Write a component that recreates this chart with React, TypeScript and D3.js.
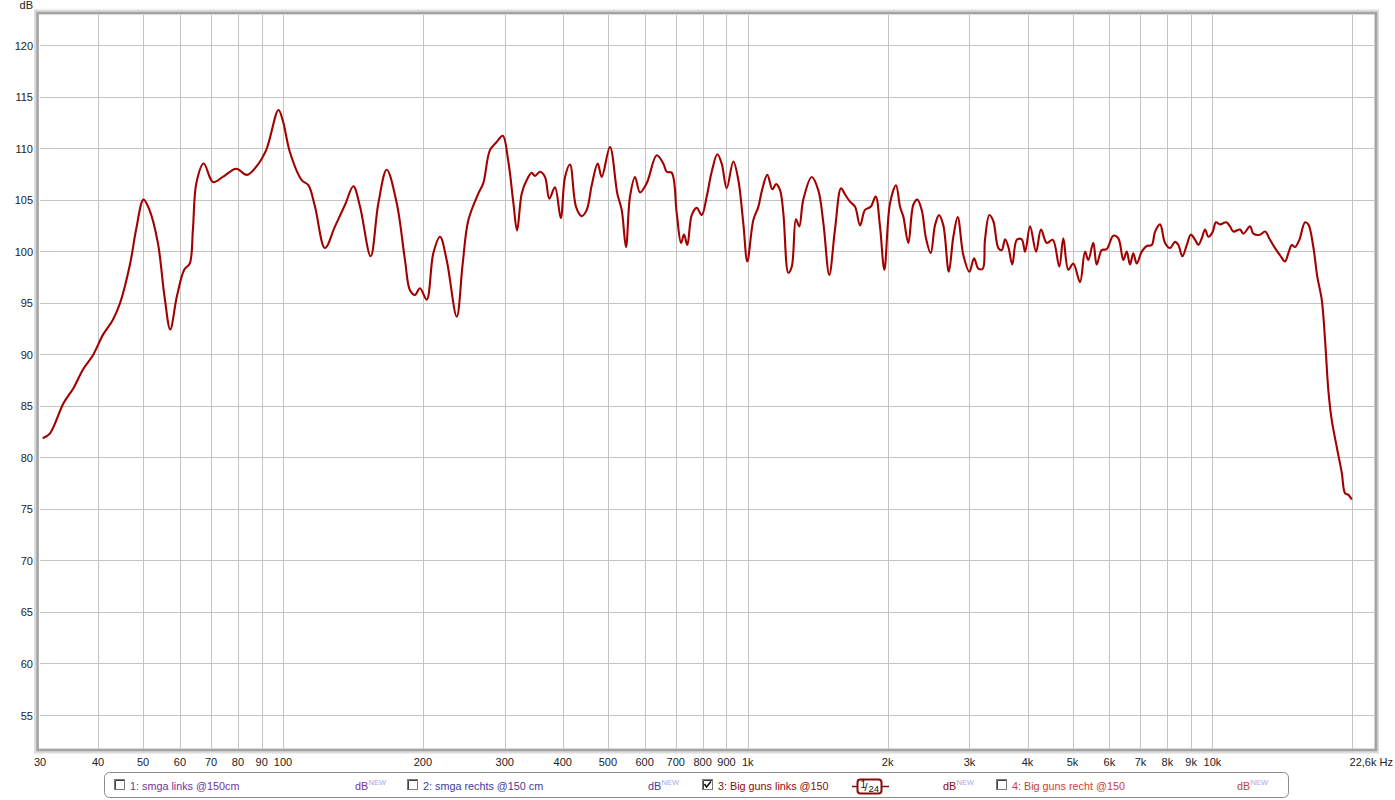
import React from "react";
import * as d3 from "d3";

const FREQ = [
  30.4, 31.5, 33.7, 35.4, 37.1, 39.0, 41.0, 43.0, 44.6, 46.9, 48.3, 50.1, 51.6, 53.8, 55.6, 57.2, 59.1, 61.3, 63.0, 64.0,
  65.1, 67.5, 70.7, 74.2, 79.3, 83.6, 87.6, 92.0, 97.8, 100.0, 103.5,
  109.7, 113.4, 117.2, 123.1, 129.4, 136.0, 141.7, 146.5, 154.4, 160.4, 167.2, 175.7, 183.0, 187.6, 192.3, 197.1, 203.8,
  210.6, 217.7, 225.0, 236.5, 243.6, 250.5, 263.3, 269.8, 278.8, 288.4, 297.1, 305.4, 313.2, 318.9, 326.4, 334.6, 342.9,
  348.6, 357.3, 366.3, 374.1, 384.8, 396.0, 404.5, 414.6, 427.1, 439.4, 450.4, 461.7, 475.6, 485.1, 505.3, 524.0, 535.6,
  547.1, 558.1, 572.1, 586.4, 606.4, 637.0, 658.2, 669.4, 686.2, 703.4, 718.6, 729.3, 741.3, 757.7, 776.6, 796.2, 816.2,
  836.6, 860.3, 879.0, 901.1, 931.1, 954.6, 978.4, 998,
  1028, 1054, 1072, 1102, 1130, 1151, 1174, 1193, 1223, 1244, 1270, 1291, 1317, 1373, 1419, 1455, 1498, 1541, 1588, 1620,
  1660, 1702, 1745, 1788, 1839, 1885, 1926, 1968, 2024, 2085, 2127, 2162, 2216, 2272, 2317, 2368, 2419, 2476, 2529, 2580,
  2636, 2708, 2770, 2831, 2911, 2999, 3069, 3136, 3204, 3240, 3311, 3377, 3462, 3521, 3579, 3638, 3710, 3793, 3887, 3952,
  4051, 4173, 4277, 4400, 4533, 4682, 4776, 4896, 5019, 5188, 5318, 5406, 5541, 5635, 5777, 5922, 6119, 6272, 6430, 6539,
  6647, 6756, 6871, 7044, 7221, 7403, 7526, 7714, 7907, 8106, 8309, 8446, 8616, 8807, 8983, 9177, 9327, 9485, 9641, 9799,
  9995, 10179, 10384, 10713, 10909, 11092, 11465, 11655, 12050, 12248, 12660, 12977, 13304, 13637, 13981, 14331, 14568,
  14815, 15059, 15382, 15823, 16084, 16486, 16816, 17188, 17471, 17760, 18061, 18515, 18980, 19293, 19611, 19944,
];

const DB = [
  81.85, 82.3, 85.25, 86.7, 88.5, 89.9, 91.9, 93.3, 94.95, 98.8, 102.1, 105.0, 104.0, 100.8, 95.6, 92.4, 95.6, 98.2, 98.8, 102.1,
  106.6, 108.5, 106.7, 107.2, 108.0, 107.4, 108.2, 109.8, 113.7, 112.6, 109.6,
  106.9, 106.4, 104.3, 100.3, 102.4, 104.5, 106.3, 104.3, 99.5, 104.65, 107.9, 104.65, 99.15, 96.2, 95.75, 96.4, 95.3,
  99.8, 101.4, 99.15, 93.65, 98.8, 103.0, 105.6, 106.6, 109.8, 110.6, 111.2, 108.7, 104.65, 102.0, 105.6, 106.9, 107.6,
  107.3, 107.7, 107.2, 105.1, 106.2, 103.2, 107.2, 108.4, 104.3, 103.4, 104.0, 106.4, 108.5, 107.2, 110.1, 105.6, 104.0,
  100.4, 105.3, 107.2, 105.7, 106.6, 109.3, 108.5, 107.7, 107.6, 103.7, 100.8, 101.6, 100.6, 103.5, 104.2, 103.5, 105.3,
  107.7, 109.4, 108.5, 106.1, 108.7, 106.9, 102.7, 99.0,
  103.0, 104.3, 105.8, 107.4, 106.0, 106.5, 105.9, 103.7, 97.9, 98.5, 103.1, 102.4, 105.0, 107.2, 105.9, 102.7, 97.7, 102.1, 106.1, 105.5,
  104.8, 104.3, 102.5, 104.0, 104.3, 105.3, 102.4, 98.2, 104.65, 106.4, 104.3, 103.35, 100.8, 104.5, 105.0, 104.0, 101.25, 99.8, 102.5, 103.5,
  102.5, 98.0, 101.4, 103.3, 99.6, 98.0, 99.3, 98.3, 98.3, 101.1, 103.5, 102.9, 100.3, 100.1, 101.15, 100.4, 98.7, 101.1, 101.15, 99.95,
  102.4, 99.95, 102.1, 100.8, 101.1, 98.5, 101.25, 98.2, 98.8, 97.0, 99.95, 99.15, 100.8, 98.7, 100.1, 100.2, 101.5, 101.25, 99.15, 99.95,
  98.7, 99.8, 98.8, 99.95, 100.5, 100.6, 101.9, 102.6, 100.8, 100.3, 100.9, 100.6, 99.5, 100.6, 101.6, 101.1, 100.6, 101.25, 102.1, 101.4,
  101.8, 102.8, 102.6, 102.8, 102.4, 101.9, 102.1, 101.7, 102.4, 101.7, 101.6, 101.9, 101.1, 100.3, 99.6, 99.0, 99.8,
  100.6, 100.4, 101.1, 102.8, 102.6, 100.4, 97.5, 95.3, 91.4, 86.5, 83.6, 81.0, 78.5, 76.5, 76.35, 75.9,
];

const X_GRID = [40, 50, 60, 70, 80, 90, 100, 200, 300, 400, 500, 600, 700, 800, 900, 1000, 2000, 3000, 4000, 5000, 6000, 7000, 8000, 9000, 10000, 20000];
const X_LABEL_VALUES = [30, 40, 50, 60, 70, 80, 90, 100, 200, 300, 400, 500, 600, 700, 800, 900, 1000, 2000, 3000, 4000, 5000, 6000, 7000, 8000, 9000, 10000];
const X_LABELS = ["30", "40", "50", "60", "70", "80", "90", "100", "200", "300", "400", "500", "600", "700", "800", "900", "1k", "2k", "3k", "4k", "5k", "6k", "7k", "8k", "9k", "10k"];
const Y_TICKS = [55, 60, 65, 70, 75, 80, 85, 90, 95, 100, 105, 110, 115, 120];

const LEGEND = [
  { label: "1: smga links @150cm", color: "#74339c", checked: false },
  { label: "2: smga rechts @150 cm", color: "#3d3d98", checked: false },
  { label: "3: Big guns links @150", color: "#8e0a0a", checked: true },
  { label: "4: Big guns recht @150", color: "#d23a3a", checked: false },
];

const FONT = "'Liberation Sans', Arial, sans-serif";

export default function App() {
  const W = 1395, H = 800;
  const left = 40, right = 1377, top = 15, bottom = 749;
  const x = d3.scaleLog().domain([30, 22600]).range([left, right]);
  const y = d3.scaleLinear().domain([55, 120]).range([715, 45]);
  const pts: [number, number][] = FREQ.map((f, i) => [f, DB[i]]);
  const line = d3.line<[number, number]>().x(d => x(d[0])).y(d => y(d[1])).curve(d3.curveCatmullRom.alpha(0.5));

  const legendX = [114, 407, 702, 996];
  const dbX = [355, 648, 943, 1237];

  return (
    <svg width={W} height={H} style={{ position: "absolute", left: 0, top: 0, background: "#fff" }} fontFamily={FONT}>
      <defs>
        <clipPath id="plot">
          <rect x={left} y={top} width={1375 - left} height={bottom - top} />
        </clipPath>
      </defs>
      <rect x={0} y={0} width={W} height={H} fill="#fff" />
      <g stroke="#c4c4c4" strokeWidth={1} shapeRendering="crispEdges">
        {X_GRID.map(f => (
          <line key={"gx" + f} x1={Math.round(x(f)) + 0.5} x2={Math.round(x(f)) + 0.5} y1={top} y2={bottom} />
        ))}
        {Y_TICKS.map(v => (
          <line key={"gy" + v} x1={left} x2={1375} y1={Math.round(y(v)) + 0.5} y2={Math.round(y(v)) + 0.5} />
        ))}
      </g>
      <rect x={36.5} y={12} width={1340} height={739} fill="none" stroke="#dcdcdc" strokeWidth={5} />
      <rect x={37.5} y={13} width={1338.5} height={737} fill="none" stroke="#a4a4a4" strokeWidth={2.5} />
      <g clipPath="url(#plot)">
        <path d={line(pts) || ""} fill="none" stroke="#a30000" strokeWidth={2.1} strokeLinejoin="round" />
      </g>
      <g fontSize={11} fill="#222" textAnchor="end">
        {Y_TICKS.map(v => (
          <text key={"ty" + v} x={33} y={y(v) + 4.5}>{v}</text>
        ))}
        <text x={33} y={9}>dB</text>
      </g>
      <g fontSize={11} fill="#222" textAnchor="middle">
        {X_LABEL_VALUES.map((f, i) => (
          <text key={"tx" + f} x={x(f)} y={766}>{X_LABELS[i]}</text>
        ))}
        <text x={1393} y={766} textAnchor="end">22,6k Hz</text>
      </g>
      <rect x={104.5} y={772.5} width={1184} height={25} rx={5} fill="#fff" stroke="#8a8a8a" strokeWidth={1} />
      {LEGEND.map((item, i) => {
        const lx = legendX[i];
        return (
          <g key={"lg" + i}>
            <rect x={lx + 0.5} y={779.5} width={10} height={10} fill="#fff" stroke="#7a7a7a" strokeWidth={1} />
            <line x1={lx + 1.5} x2={lx + 10} y1={780.5} y2={780.5} stroke="#404040" />
            <line x1={lx + 1.5} x2={lx + 1.5} y1={780.5} y2={789} stroke="#404040" />
            {item.checked && (
              <path d={`M${lx + 2.5},${784} L${lx + 4.5},${787} L${lx + 9},${781.5}`} fill="none" stroke="#111" strokeWidth={1.6} />
            )}
            <text x={lx + 16} y={789.5} fontSize={10.8} fill={item.color}>{item.label}</text>
            <text x={dbX[i]} y={789.5} fontSize={10.8} fill={item.color}>dB</text>
            <text x={dbX[i] + 13.5} y={785} fontSize={7.5} fill="#a6a6ea">NEW</text>
          </g>
        );
      })}
      <g>
        <line x1={852} x2={889} y1={786.5} y2={786.5} stroke="#8e0a0a" strokeWidth={1.5} />
        <rect x={857.5} y={779.5} width={24} height={14} rx={3} fill="#fff" stroke="#8e0a0a" strokeWidth={2} />
        <text x={860.5} y={788} fontSize={10} fill="#111">1</text>
        <text x={864.5} y={791} fontSize={11} fill="#111">/</text>
        <text x={868.5} y={792} fontSize={9.5} fill="#111">24</text>
      </g>
    </svg>
  );
}
